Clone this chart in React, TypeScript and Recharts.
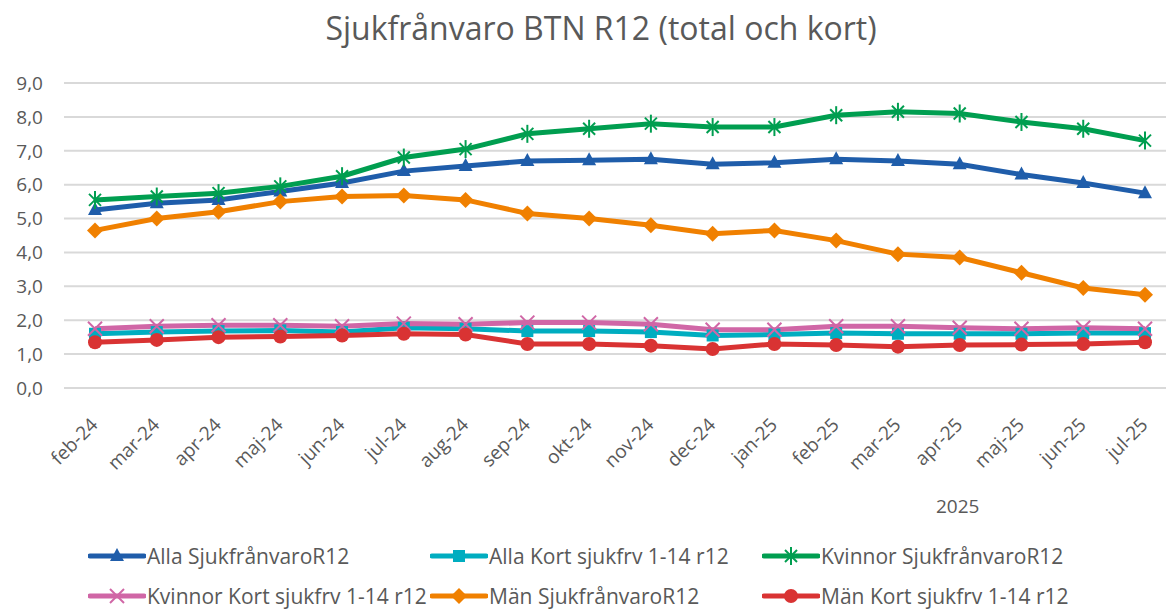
import React from "react";
import { LineChart, Line, XAxis, YAxis, CartesianGrid } from "recharts";

const months = [
  "feb-24", "mar-24", "apr-24", "maj-24", "jun-24", "jul-24", "aug-24", "sep-24", "okt-24",
  "nov-24", "dec-24", "jan-25", "feb-25", "mar-25", "apr-25", "maj-25", "jun-25", "jul-25",
];

const allaTotal = [5.25, 5.45, 5.55, 5.8, 6.05, 6.4, 6.55, 6.7, 6.72, 6.75, 6.6, 6.65, 6.75, 6.7, 6.6, 6.3, 6.05, 5.75];
const allaKort = [1.6, 1.65, 1.68, 1.7, 1.65, 1.78, 1.75, 1.68, 1.68, 1.65, 1.55, 1.58, 1.62, 1.6, 1.6, 1.6, 1.62, 1.62];
const kvinnorTotal = [5.55, 5.65, 5.75, 5.95, 6.25, 6.8, 7.05, 7.5, 7.65, 7.8, 7.7, 7.7, 8.05, 8.15, 8.1, 7.85, 7.65, 7.3];
const kvinnorKort = [1.75, 1.82, 1.85, 1.85, 1.82, 1.9, 1.88, 1.93, 1.93, 1.88, 1.72, 1.72, 1.82, 1.82, 1.78, 1.75, 1.78, 1.75];
const manTotal = [4.65, 5.0, 5.2, 5.5, 5.65, 5.68, 5.55, 5.15, 5.0, 4.8, 4.55, 4.65, 4.35, 3.95, 3.85, 3.4, 2.95, 2.75];
const manKort = [1.35, 1.42, 1.5, 1.52, 1.55, 1.6, 1.58, 1.3, 1.3, 1.25, 1.15, 1.3, 1.27, 1.22, 1.27, 1.28, 1.3, 1.35];

const yTicks = [0, 1, 2, 3, 4, 5, 6, 7, 8, 9];

type Shape = "triangle" | "square" | "star" | "x" | "diamond" | "circle";

const series: { key: string; name: string; color: string; shape: Shape; values: number[] }[] = [
  { key: "allaTotal", name: "Alla SjukfrånvaroR12", color: "#1F5DAA", shape: "triangle", values: allaTotal },
  { key: "allaKort", name: "Alla Kort sjukfrv 1-14 r12", color: "#00ADC0", shape: "square", values: allaKort },
  { key: "kvinnorTotal", name: "Kvinnor SjukfrånvaroR12", color: "#009E50", shape: "star", values: kvinnorTotal },
  { key: "kvinnorKort", name: "Kvinnor Kort sjukfrv 1-14 r12", color: "#D066A6", shape: "x", values: kvinnorKort },
  { key: "manTotal", name: "Män SjukfrånvaroR12", color: "#F08000", shape: "diamond", values: manTotal },
  { key: "manKort", name: "Män Kort sjukfrv 1-14 r12", color: "#D93333", shape: "circle", values: manKort },
];

const data = months.map((m, i) => {
  const row: Record<string, string | number> = { month: m };
  series.forEach((s) => {
    row[s.key] = s.values[i];
  });
  return row;
});

// legend slots, Excel-style three columns
const legendPos = [
  { left: 88, top: 556 },
  { left: 430, top: 556 },
  { left: 762, top: 556 },
  { left: 88, top: 596 },
  { left: 430, top: 596 },
  { left: 762, top: 596 },
];

const FONT = "'Open Sans', sans-serif";
const GREY = "#595959";

function Marker({ shape, cx, cy, color }: { shape: Shape; cx: number; cy: number; color: string }) {
  switch (shape) {
    case "triangle":
      return <polygon points={`${cx},${cy - 8} ${cx - 7},${cy + 5} ${cx + 7},${cy + 5}`} fill={color} />;
    case "square":
      return <rect x={cx - 6} y={cy - 6} width={12} height={12} fill={color} />;
    case "star":
      return (
        <g stroke={color} strokeWidth={2}>
          <line x1={cx - 6} y1={cy - 6} x2={cx + 6} y2={cy + 6} />
          <line x1={cx - 6} y1={cy + 6} x2={cx + 6} y2={cy - 6} />
          <line x1={cx} y1={cy - 9} x2={cx} y2={cy + 9} />
        </g>
      );
    case "x":
      return (
        <g stroke={color} strokeWidth={2}>
          <line x1={cx - 7} y1={cy - 7} x2={cx + 7} y2={cy + 7} />
          <line x1={cx - 7} y1={cy + 7} x2={cx + 7} y2={cy - 7} />
        </g>
      );
    case "diamond":
      return <polygon points={`${cx},${cy - 8} ${cx + 8},${cy} ${cx},${cy + 8} ${cx - 8},${cy}`} fill={color} />;
    default:
      return <circle cx={cx} cy={cy} r={7} fill={color} />;
  }
}

const makeDot = (shape: Shape, color: string) => (props: any) => {
  const { cx, cy, index } = props;
  if (cx == null || cy == null) return <g key={index} />;
  return (
    <g key={index}>
      <Marker shape={shape} cx={cx} cy={cy} color={color} />
    </g>
  );
};

const MonthTick = (props: any) => {
  const { x, y, payload } = props;
  const ax = x + 4;
  const ay = y + 30;
  return (
    <text
      x={ax}
      y={ay}
      textAnchor="end"
      fill={GREY}
      fontSize={19}
      fontFamily={FONT}
      transform={`rotate(-45, ${ax}, ${ay})`}
    >
      {payload.value}
    </text>
  );
};

export default function App() {
  return (
    <div
      style={{
        position: "absolute",
        left: 0,
        top: 0,
        width: 1166,
        height: 613,
        overflow: "hidden",
        background: "#fff",
        fontFamily: FONT,
      }}
    >
      <div
        style={{
          position: "absolute",
          left: 0,
          width: 1202,
          top: 6,
          textAlign: "center",
          fontSize: 32,
          color: GREY,
        }}
      >
        Sjukfrånvaro BTN R12 (total och kort)
      </div>

      <LineChart
        width={1180}
        height={613}
        data={data}
        margin={{ top: 83, right: 4, left: 0, bottom: 125 }}
      >
        <CartesianGrid vertical={false} stroke="#d9d9d9" strokeWidth={2} />
        <XAxis
          dataKey="month"
          height={100}
          padding={{ left: 31, right: 31 }}
          axisLine={false}
          tickLine={false}
          interval={0}
          tick={<MonthTick />}
        />
        <YAxis
          width={64}
          domain={[0, 9]}
          ticks={yTicks}
          interval={0}
          axisLine={false}
          tickLine={false}
          tickMargin={15}
          tick={{ fontSize: 19, fill: GREY, fontFamily: FONT }}
          tickFormatter={(v: number) => v.toFixed(1).replace(".", ",")}
        />
        {series.map((s) => (
          <Line
            key={s.key}
            dataKey={s.key}
            name={s.name}
            stroke={s.color}
            strokeWidth={5}
            dot={makeDot(s.shape, s.color)}
            activeDot={false}
            isAnimationActive={false}
          />
        ))}
      </LineChart>

      <div
        style={{ position: "absolute", left: 936, top: 493, fontSize: 19, color: GREY }}
      >
        2025
      </div>

      {series.map((s, i) => (
        <div
          key={s.key}
          style={{
            position: "absolute",
            left: legendPos[i].left,
            top: legendPos[i].top - 15,
            height: 30,
            display: "flex",
            alignItems: "center",
            fontSize: 21,
            color: GREY,
            whiteSpace: "nowrap",
          }}
        >
          <svg width={58} height={30} style={{ marginRight: 1 }}>
            <line x1={2} y1={15} x2={56} y2={15} stroke={s.color} strokeWidth={5} strokeLinecap="round" />
            <Marker shape={s.shape} cx={29} cy={15} color={s.color} />
          </svg>
          {s.name}
        </div>
      ))}
    </div>
  );
}
